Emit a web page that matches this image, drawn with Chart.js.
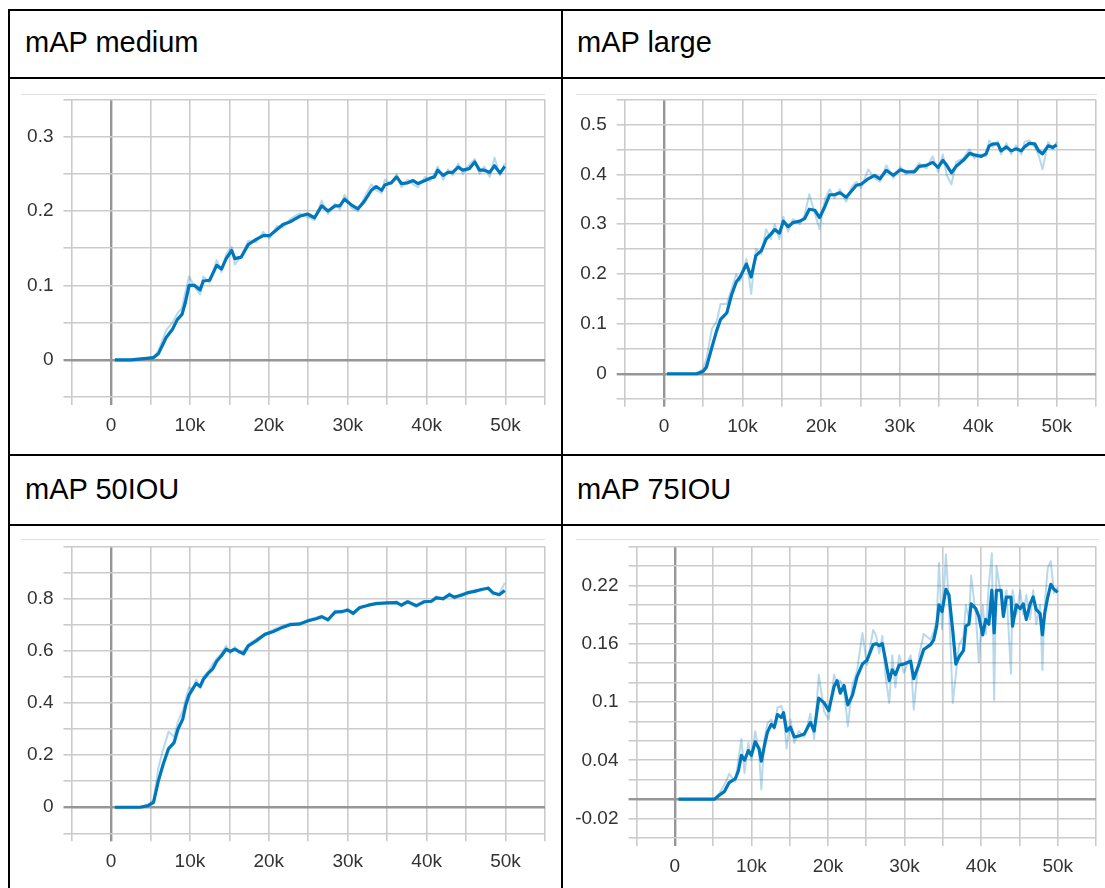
<!DOCTYPE html>
<html>
<head>
<meta charset="utf-8">
<title>mAP</title>
<script src="https://cdn.jsdelivr.net/npm/chart.js@4.4.1/dist/chart.umd.min.js"></script>
<style>
  html, body { margin: 0; padding: 0; background: #fff; width: 1105px; height: 888px; overflow: hidden; }
  .rule { position: absolute; background: #000; }
  .title { position: absolute; font-family: "Liberation Sans", Arial, sans-serif; font-size: 29px; line-height: 29px; color: #000; white-space: nowrap; }
  .cap { position: absolute; height: 0; border-top: 1.5px solid #e0e0e0; }
  canvas { position: absolute; }
</style>
</head>
<body>
<!-- table rules -->
<div class="rule" style="left:8px;top:9px;width:1110px;height:2px"></div>
<div class="rule" style="left:8px;top:9px;width:2px;height:900px"></div>
<div class="rule" style="left:561px;top:9px;width:2px;height:900px"></div>
<div class="rule" style="left:8px;top:77px;width:1110px;height:2px"></div>
<div class="rule" style="left:8px;top:454px;width:1110px;height:2px"></div>
<div class="rule" style="left:8px;top:524px;width:1110px;height:2px"></div>

<div class="title" style="left:25px;top:28px">mAP medium</div>
<div class="title" style="left:577px;top:28px">mAP large</div>
<div class="title" style="left:25px;top:475px">mAP 50IOU</div>
<div class="title" style="left:577px;top:475px">mAP 75IOU</div>

<div class="cap" style="left:21px;top:94px;width:524px"></div>
<div class="cap" style="left:576px;top:94px;width:521px"></div>
<div class="cap" style="left:21px;top:539px;width:524px"></div>
<div class="cap" style="left:576px;top:539px;width:523px"></div>

<canvas id="c1" width="552" height="374" style="left:10px;top:80px"></canvas>
<canvas id="c2" width="541" height="374" style="left:564px;top:80px"></canvas>
<canvas id="c3" width="552" height="361" style="left:10px;top:527px"></canvas>
<canvas id="c4" width="541" height="361" style="left:564px;top:527px"></canvas>

<script>
// x axis tick labels (training steps)
const xTickValues = [0, 10000, 20000, 30000, 40000, 50000];
const xTickText = ['0', '10k', '20k', '30k', '40k', '50k'];

// mAP medium
const steps1 = [500,1500,2500,3500,4500,5400,6000,7000,7800,8400,9000,9400,9900,10600,11300,11700,12500,13400,14000,14600,15300,15700,16500,17400,18400,19300,20100,21000,21800,22800,23900,24900,25800,26700,27500,28400,29000,29600,30500,31300,32100,33000,33600,34300,34700,35500,36200,36800,37600,38300,38900,39800,40400,41000,41400,42100,42700,43300,44000,44600,45400,46100,46700,47300,48000,48600,49300,49900];
const smooth1 = [0,0,0,0.001,0.002,0.003,0.008,0.03,0.041,0.054,0.061,0.076,0.1,0.1,0.094,0.106,0.107,0.127,0.122,0.136,0.147,0.136,0.138,0.155,0.162,0.167,0.167,0.175,0.182,0.186,0.193,0.196,0.191,0.207,0.2,0.207,0.207,0.216,0.208,0.203,0.213,0.228,0.233,0.228,0.235,0.238,0.246,0.237,0.238,0.241,0.237,0.241,0.244,0.246,0.255,0.248,0.252,0.252,0.259,0.255,0.257,0.266,0.255,0.255,0.252,0.261,0.251,0.26];
const raw1 = [0,0,0,0.001,0.002,0.004,0.012,0.04,0.05,0.062,0.07,0.09,0.112,0.098,0.088,0.112,0.104,0.134,0.118,0.142,0.152,0.128,0.14,0.16,0.158,0.172,0.163,0.18,0.178,0.19,0.197,0.192,0.188,0.214,0.196,0.21,0.202,0.222,0.204,0.2,0.218,0.236,0.228,0.224,0.242,0.236,0.25,0.232,0.242,0.236,0.232,0.246,0.24,0.25,0.26,0.242,0.256,0.248,0.264,0.25,0.262,0.27,0.25,0.26,0.246,0.272,0.248,0.264];
const yTicks1 = [0, 0.1, 0.2, 0.3];

// mAP large
const steps2 = [400,1500,2500,3500,4200,5000,5400,6100,6700,7200,8000,8600,9200,9700,10500,11100,11700,12400,13000,13600,14100,14700,15200,15800,16400,17300,17900,18500,19200,19800,20500,21100,21700,22400,23200,23900,24500,25100,26000,26800,27500,28300,29200,30100,30800,31900,32500,33400,34200,34900,35500,36000,36600,37200,38100,38900,39500,40400,41000,41400,41900,42500,42900,43600,44200,44800,45500,45900,46500,47200,47700,48200,48900,49500,50000];
const smooth2 = [0,0,0,0,0,0.005,0.013,0.053,0.086,0.109,0.122,0.158,0.184,0.194,0.22,0.194,0.237,0.247,0.27,0.28,0.289,0.282,0.306,0.295,0.303,0.306,0.311,0.33,0.328,0.313,0.336,0.359,0.359,0.363,0.354,0.367,0.378,0.38,0.391,0.398,0.391,0.408,0.398,0.409,0.405,0.405,0.416,0.418,0.424,0.414,0.428,0.418,0.403,0.416,0.428,0.442,0.439,0.436,0.441,0.457,0.461,0.461,0.447,0.455,0.447,0.451,0.447,0.455,0.462,0.461,0.447,0.441,0.457,0.454,0.459];
const raw2 = [0,0,0,0,0.001,0.01,0.03,0.09,0.105,0.14,0.14,0.17,0.2,0.186,0.23,0.16,0.25,0.24,0.29,0.27,0.3,0.27,0.315,0.285,0.31,0.3,0.318,0.36,0.322,0.29,0.35,0.37,0.352,0.37,0.345,0.375,0.385,0.372,0.41,0.392,0.385,0.418,0.392,0.415,0.4,0.41,0.422,0.412,0.436,0.405,0.44,0.398,0.38,0.425,0.432,0.45,0.432,0.44,0.436,0.468,0.455,0.466,0.44,0.462,0.44,0.458,0.44,0.465,0.468,0.455,0.438,0.41,0.465,0.45,0.465];
const yTicks2 = [0, 0.1, 0.2, 0.3, 0.4, 0.5];

// mAP 50IOU
const steps3 = [500,1500,2500,3700,4700,5400,6000,6600,7300,8000,8500,9100,9500,9900,10400,10800,11300,11700,12300,12900,13400,14000,14600,15100,15700,16200,16800,17400,18400,19500,20500,21600,22700,23900,25000,26000,26700,27500,28400,29200,30000,30700,31500,32600,33600,34900,36200,36800,37600,38700,39700,40600,41200,42100,42900,43500,44400,45200,46100,46900,47800,48400,49200,49900];
const smooth3 = [0,0,0,0,0.006,0.019,0.1,0.163,0.225,0.248,0.3,0.338,0.394,0.431,0.456,0.475,0.463,0.49,0.513,0.531,0.56,0.581,0.606,0.598,0.606,0.598,0.588,0.619,0.638,0.663,0.673,0.688,0.7,0.703,0.715,0.723,0.731,0.719,0.748,0.75,0.756,0.744,0.765,0.775,0.781,0.784,0.785,0.775,0.788,0.773,0.788,0.79,0.803,0.8,0.815,0.806,0.813,0.823,0.828,0.835,0.84,0.823,0.815,0.831];
const raw3 = [0,0,0,0.001,0.008,0.03,0.15,0.22,0.29,0.27,0.33,0.37,0.42,0.46,0.45,0.49,0.455,0.5,0.52,0.55,0.57,0.59,0.62,0.59,0.615,0.59,0.6,0.625,0.645,0.665,0.68,0.694,0.706,0.7,0.72,0.728,0.735,0.715,0.755,0.746,0.762,0.738,0.77,0.772,0.785,0.78,0.79,0.77,0.792,0.768,0.792,0.786,0.81,0.795,0.822,0.8,0.82,0.818,0.835,0.83,0.845,0.815,0.82,0.86];
const yTicks3 = [0, 0.2, 0.4, 0.6, 0.8];

// mAP 75IOU
const steps4 = [500,2500,5200,5800,6500,7100,7900,8300,8700,9100,9600,10000,10500,11000,11300,11700,12100,12600,13000,13400,13900,14200,14600,15100,15600,16200,16900,17700,18200,18800,19500,20100,20800,21200,21600,22100,22600,23200,23800,24500,25100,25900,26300,26700,27100,27500,28000,28400,28800,29300,29900,30800,31200,31900,32500,33400,33800,34200,34500,34900,35400,35800,36300,36700,37100,37700,38000,38400,38700,39300,39700,40200,40600,41000,41400,41700,42000,42600,42900,43300,43900,44100,44600,45100,45500,45900,46400,46800,47200,47700,48000,48300,48700,49100,49500,50000];
const smooth4 = [0,0,0,0.004,0.008,0.017,0.021,0.029,0.045,0.04,0.05,0.045,0.059,0.052,0.039,0.055,0.069,0.077,0.074,0.087,0.084,0.089,0.07,0.074,0.064,0.065,0.067,0.079,0.07,0.104,0.099,0.091,0.116,0.122,0.109,0.117,0.097,0.107,0.126,0.139,0.143,0.159,0.16,0.158,0.16,0.144,0.122,0.133,0.128,0.138,0.139,0.142,0.124,0.139,0.154,0.159,0.164,0.178,0.2,0.193,0.216,0.21,0.173,0.139,0.146,0.153,0.178,0.18,0.201,0.196,0.188,0.169,0.185,0.18,0.215,0.171,0.215,0.215,0.188,0.208,0.208,0.178,0.2,0.196,0.201,0.185,0.201,0.208,0.195,0.191,0.169,0.191,0.208,0.221,0.216,0.213];
const raw4 = [0,0,0,0.006,0.015,0.026,0.018,0.04,0.062,0.027,0.058,0.04,0.07,0.048,0.01,0.062,0.078,0.082,0.072,0.094,0.096,0.088,0.052,0.082,0.058,0.07,0.064,0.088,0.062,0.128,0.09,0.082,0.128,0.118,0.122,0.112,0.075,0.118,0.132,0.171,0.138,0.174,0.168,0.15,0.168,0.128,0.099,0.148,0.115,0.148,0.13,0.148,0.092,0.148,0.17,0.164,0.172,0.185,0.243,0.175,0.252,0.2,0.099,0.128,0.158,0.168,0.2,0.185,0.23,0.19,0.141,0.2,0.17,0.22,0.253,0.102,0.24,0.21,0.2,0.215,0.129,0.215,0.19,0.215,0.19,0.21,0.185,0.215,0.18,0.2,0.133,0.2,0.238,0.245,0.212,0.218];
const yTicks4 = [-0.02, 0.04, 0.1, 0.16, 0.22];

const LINE = 'rgb(0,119,187)';
const LINE_RAW = 'rgba(0,119,187,0.28)';
const GRID = '#cbcbcb';
const GRID_ZERO = '#969696';

Chart.defaults.font.family = '"Liberation Sans", Arial, sans-serif';
Chart.defaults.font.size = 19;
Chart.defaults.color = '#333';

function toPoints(steps, vals) {
  return steps.map((s, i) => ({ x: s, y: vals[i] }));
}

function gridColor(ctx) {
  return Math.abs(ctx.tick.value) < 1e-9 ? GRID_ZERO : GRID;
}
function gridWidth(ctx) {
  return Math.abs(ctx.tick.value) < 1e-9 ? 2.4 : 1.6;
}

function drawPanel(id, steps, smooth, raw, yMin, yMax, yStep, yTicks, area) {
  const canvas = document.getElementById(id);
  new Chart(canvas, {
    type: 'line',
    data: {
      datasets: [
        { data: toPoints(steps, smooth), borderColor: LINE, borderWidth: 3.2, pointRadius: 0, tension: 0, borderJoinStyle: 'round', order: 0 },
        { data: toPoints(steps, raw), borderColor: LINE_RAW, borderWidth: 2, pointRadius: 0, tension: 0, borderJoinStyle: 'round', order: 1 }
      ]
    },
    options: {
      responsive: false,
      animation: false,
      devicePixelRatio: 1,
      events: [],
      layout: { padding: { left: 0, top: area.top, right: area.right, bottom: area.bottom } },
      plugins: { legend: { display: false }, tooltip: { enabled: false } },
      scales: {
        x: {
          type: 'linear', min: -5000, max: 55000,
          afterFit: (s) => { s.height = 45; },
          border: { display: false },
          grid: { color: gridColor, tickColor: gridColor, lineWidth: gridWidth, drawTicks: true, tickLength: 8 },
          ticks: {
            stepSize: 5000, autoSkip: false, maxRotation: 0, padding: 9,
            font: { lineHeight: 1.2 },
            callback: (v) => { const i = xTickValues.indexOf(v); return i < 0 ? '' : xTickText[i]; }
          }
        },
        y: {
          type: 'linear', min: yMin, max: yMax,
          afterFit: (s) => { s.width = area.left; },
          border: { display: false },
          grid: { color: gridColor, tickColor: gridColor, lineWidth: gridWidth, drawTicks: true, tickLength: 8 },
          ticks: {
            stepSize: yStep, autoSkip: false, padding: 10,
            font: { lineHeight: 1 },
            callback: (v) => { const t = yTicks.find(l => Math.abs(l - v) < yStep / 100); return t === undefined ? '' : String(t); }
          }
        }
      }
    }
  });
}

drawPanel('c1', steps1, smooth1, raw1, -0.05, 0.35, 0.05, yTicks1, { left: 61.5, top: 14.5, right: 17, bottom: 12 });
drawPanel('c2', steps2, smooth2, raw2, -0.05, 0.55, 0.05, yTicks2, { left: 60.7, top: 14.7, right: 8.3, bottom: 10.3 });
drawPanel('c3', steps3, smooth3, raw3, -0.1, 1.0, 0.1, yTicks3, { left: 61.5, top: 13, right: 17, bottom: 9.7 });
drawPanel('c4', steps4, smooth4, raw4, -0.04, 0.26, 0.02, yTicks4, { left: 72.5, top: 13, right: 6.5, bottom: 5 });
</script>
</body>
</html>
